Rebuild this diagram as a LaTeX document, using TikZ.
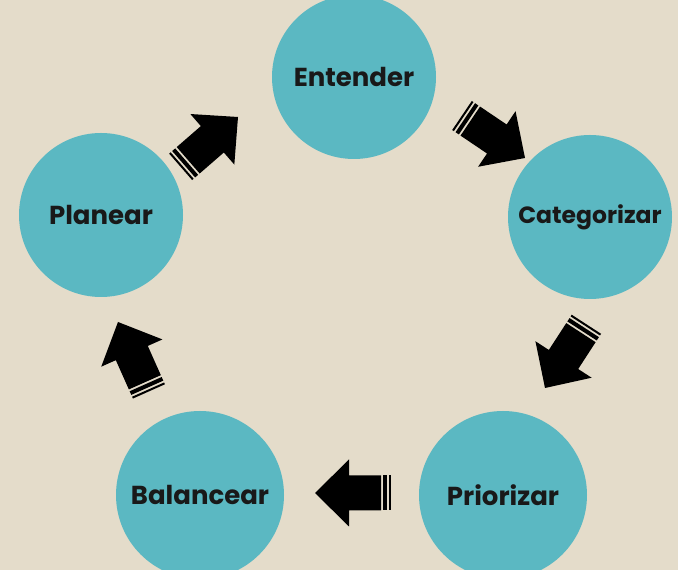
\documentclass[tikz,border=0pt]{standalone}
\usepackage{fontspec}
\setmainfont{Poppins}[BoldFont={Poppins Bold}]
\definecolor{paper}{HTML}{E4DCCA}
\definecolor{teal}{HTML}{5BB8C2}
\tikzset{
  step circle/.style = {circle, fill = teal, minimum size = 164pt, inner sep = 0pt,
    font = \fontsize{26}{30}\selectfont\bfseries, text = black!90},
  stripearrow/.pic = {
    \fill (0, 0) -- (-34, 33.5) -- (-34, 17.5) -- (-66, 17.5) -- (-66, -17.5)
      -- (-34, -17.5) -- (-34, -33.5) -- cycle;
    \fill (-68, -17.5) rectangle (-72, 17.5);
    \fill (-74, -17.5) rectangle (-76, 17.5);
  }
}
\begin{document}
\begin{tikzpicture}[x = 1pt, y = 1pt]
  \fill[paper] (0, 0) rectangle (678, 570);
  \useasboundingbox (0, 0) rectangle (678, 570);
  % the five steps
  \node[step circle] (entender) at (354, 493) {Entender};
  \node[step circle, font = \fontsize{23.5}{28}\selectfont\bfseries] (categorizar) at (590, 353) {Categorizar};
  \node[step circle, minimum size = 168pt] (priorizar) at (503, 75) {Priorizar};
  \node[step circle, minimum size = 168pt] (balancear) at (200, 75) {Balancear};
  \node[step circle, minimum size = 164pt] (planear) at (101, 355) {Planear};
  % arrows between them
  \pic[rotate = 41] at (238, 453) {stripearrow};
  \pic[rotate = -34] at (525, 412) {stripearrow};
  \pic[rotate = -123] at (545, 182) {stripearrow};
  \pic[rotate = 180] at (315, 77) {stripearrow};
  \pic[rotate = 114] at (118, 248) {stripearrow};
\end{tikzpicture}
\end{document}
